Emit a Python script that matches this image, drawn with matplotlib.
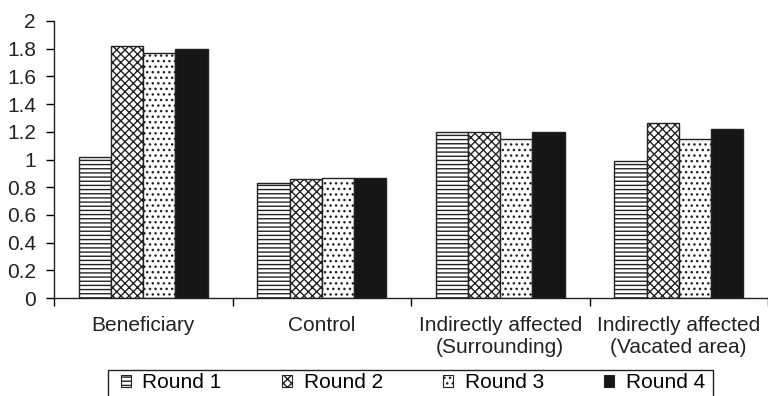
import matplotlib
matplotlib.use("Agg")
import matplotlib.pyplot as plt
from matplotlib.patches import Patch, Rectangle
import numpy as np

plt.rcParams['font.family'] = ['Liberation Sans', 'DejaVu Sans']
plt.rcParams['hatch.linewidth'] = 1.0

categories = ["Beneficiary", "Control", "Indirectly affected\n(Surrounding)",
              "Indirectly affected\n(Vacated area)"]
series_names = ["Round 1", "Round 2", "Round 3", "Round 4"]
round1 = [1.02, 0.83, 1.20, 0.99]
round2 = [1.82, 0.86, 1.20, 1.26]
round3 = [1.77, 0.87, 1.15, 1.15]
round4 = [1.80, 0.87, 1.20, 1.22]
y_ticks = [0, 0.2, 0.4, 0.6, 0.8, 1, 1.2, 1.4, 1.6, 1.8, 2]
y_tick_labels = ["0", "0.2", "0.4", "0.6", "0.8", "1", "1.2", "1.4", "1.6", "1.8", "2"]

values = [round1, round2, round3, round4]
styles = [
    dict(facecolor="white", hatch="----"),
    dict(facecolor="white", hatch="xxxx"),
    dict(facecolor="white", hatch="..."),
    dict(facecolor="#161616", hatch=None),
]

FS = 15
W, H = 768, 396

fig = plt.figure(figsize=(W / 100, H / 100), dpi=100)
ax = fig.add_axes([54 / W, 98 / H, 714 / W, 277 / H])

x = np.arange(len(categories))
width = 0.18
offsets = [-1.5, -0.5, 0.5, 1.5]
for vals, off, st in zip(values, offsets, styles):
    ax.bar(x + off * width, vals, width, edgecolor="#222222", linewidth=1.0, **st)

ax.set_xlim(-0.5, 3.49)
ax.set_ylim(0, 2)
ax.set_yticks(y_ticks)
ax.set_yticklabels(y_tick_labels, fontsize=FS, color="#222222")

# category separators as major ticks, names as minor tick labels
ax.set_xticks(np.arange(len(categories) + 1) - 0.5)
ax.set_xticklabels([])
ax.set_xticks(x, minor=True)
ax.set_xticklabels(categories, minor=True, fontsize=FS, color="#222222", linespacing=1.2)
ax.tick_params(axis="x", which="minor", length=0, pad=13)
ax.tick_params(axis="x", which="major", length=6, width=1, direction="out")
ax.tick_params(axis="y", length=6, width=1, direction="out", pad=7)

for s in ["top", "right"]:
    ax.spines[s].set_visible(False)
for s in ["left", "bottom"]:
    ax.spines[s].set_linewidth(1.0)
    ax.spines[s].set_color("#222222")

# legend box running past the bottom edge
fig.add_artist(Rectangle((108 / W, -10 / H), 605 / W, 36 / H,
                         transform=fig.transFigure, facecolor="white",
                         edgecolor="#222222", linewidth=1.0))

handles = [Patch(edgecolor="#222222", linewidth=0.8, **st) for st in styles]
leg = fig.legend(handles, series_names, loc="center left",
                 bbox_to_anchor=(121 / W, 1 - 383 / H), ncol=4, fontsize=FS,
                 frameon=False,
                 handlelength=0.48, handleheight=0.48, handletextpad=0.55,
                 columnspacing=2.9, borderpad=0, borderaxespad=0)

fig.savefig("out.png", dpi=100)
